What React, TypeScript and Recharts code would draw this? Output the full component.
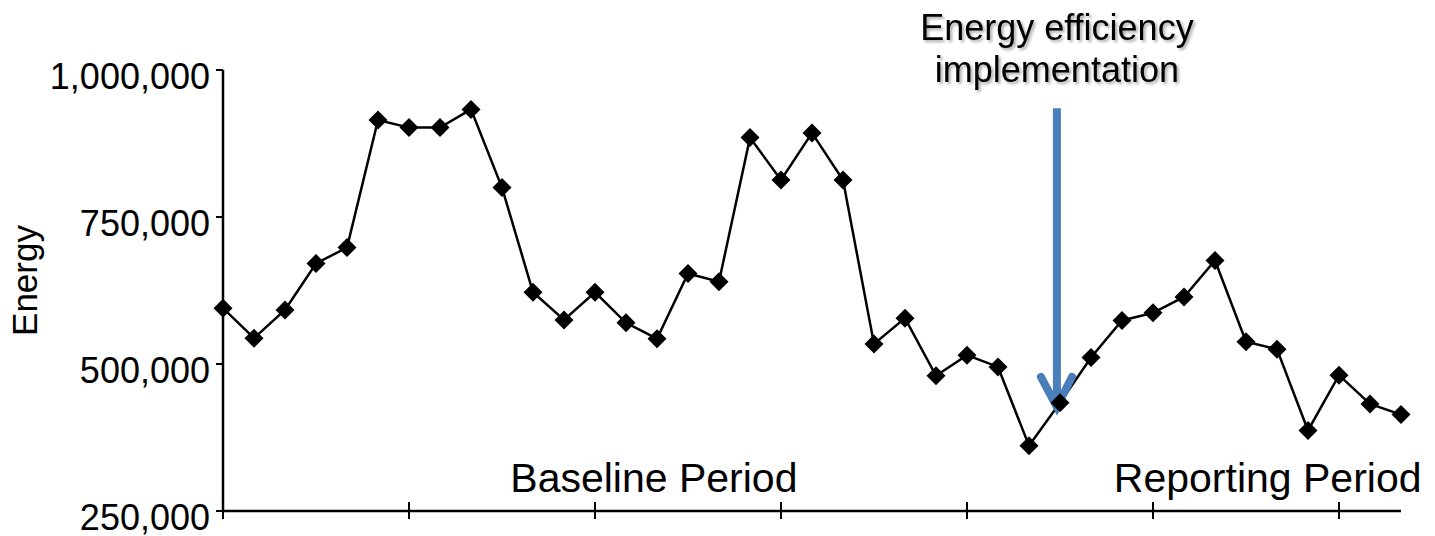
import React from 'react';
import { LineChart, Line, XAxis, YAxis, ReferenceLine, ReferenceDot, Label } from 'recharts';

// Month index (x categories)
const months = [
  1, 2, 3, 4, 5, 6, 7, 8, 9, 10, 11, 12, 13, 14, 15, 16, 17, 18, 19, 20,
  21, 22, 23, 24, 25, 26, 27, 28, 29, 30, 31, 32, 33, 34, 35, 36, 37, 38, 39,
];

// Energy values
const energy = [
  595000, 544000, 592000, 671000, 698000, 915000, 902000, 902000, 933000, 800000,
  622000, 575000, 622000, 570000, 543000, 654000, 640000, 885000, 813000, 893000,
  813000, 534000, 578000, 480000, 515000, 495000, 361000, 434000, 511000, 574000,
  587000, 614000, 676000, 538000, 525000, 387000, 481000, 432000, 414000,
];

const yTicks = [250000, 500000, 750000, 1000000];
const xTicks = [1, 7, 13, 19, 25, 31, 37];

// Annotations (in data coordinates)
const arrowMonth = 27.9;
const arrowTop = 935000;
const arrowTip = 427000;
const annotationLines = ['Energy efficiency', 'implementation'];
const periodLabels = [
  { month: 14.9, value: 306500, text: 'Baseline Period' },
  { month: 34.7, value: 306500, text: 'Reporting Period' },
];

const data = months.map((m, i) => ({ month: m, energy: energy[i] }));

const FONT = '"Liberation Sans", Arial, sans-serif';
const BLUE = '#4A7EBB';

const Diamond = (props: any) => {
  const { cx, cy, index } = props;
  if (cx == null || cy == null) return <g key={`d-${index}`} />;
  const r = 9.5;
  return (
    <path
      key={`d-${index}`}
      d={`M${cx},${cy - r} L${cx + r},${cy} L${cx},${cy + r} L${cx - r},${cy} Z`}
      fill="#000"
    />
  );
};

const XTick = (props: any) => {
  const { x, y } = props;
  return <line x1={x} x2={x} y1={y - 9} y2={y + 8} stroke="#000" strokeWidth={2} />;
};

const YTick = (props: any) => {
  const { x, y, payload } = props;
  return (
    <text x={x} y={y + 18.5} textAnchor="end" fontSize={36} fontFamily={FONT} fill="#000">
      {Number(payload.value).toLocaleString('en-US')}
    </text>
  );
};

const ArrowShape = (props: any) => {
  const { x1, y1, x2, y2 } = props;
  if (x1 == null) return null;
  const tipX = x2;
  const tipY = y2;
  return (
    <g>
      <line x1={x1} y1={y1} x2={tipX} y2={tipY - 4} stroke={BLUE} strokeWidth={8} />
      <polyline
        points={`${tipX - 16},${tipY - 30} ${tipX},${tipY} ${tipX + 15},${tipY - 30}`}
        fill="none"
        stroke={BLUE}
        strokeWidth={8}
        strokeLinecap="round"
        strokeLinejoin="miter"
      />
      <g filter="url(#txtShadow)">
        {annotationLines.map((t, i) => (
          <text
            key={t}
            x={x1}
            y={y1 - 68 + i * 42}
            textAnchor="middle"
            fontSize={36}
            fontFamily={FONT}
            fill="#000"
          >
            {t}
          </text>
        ))}
      </g>
    </g>
  );
};

export default function App() {
  return (
    <div style={{ position: 'fixed', left: 0, top: 0, width: 1435, height: 536, background: '#fff' }}>
      <LineChart
        width={1435}
        height={536}
        data={data}
        margin={{ top: 70, right: 34, left: 0, bottom: 0 }}
      >
        <defs>
          <filter id="txtShadow" x="-20%" y="-50%" width="140%" height="200%">
            <feDropShadow dx="2" dy="2" stdDeviation="1.5" floodColor="#000" floodOpacity="0.35" />
          </filter>
        </defs>
        <XAxis
          type="number"
          dataKey="month"
          domain={[1, 39]}
          ticks={xTicks}
          height={25}
          tickSize={0}
          tickMargin={0}
          tickLine={false}
          axisLine={{ stroke: '#000', strokeWidth: 2.5 }}
          tick={<XTick />}
          interval={0}
        />
        <YAxis
          type="number"
          domain={[250000, 1000000]}
          ticks={yTicks}
          width={223}
          tickSize={7}
          tickMargin={6}
          axisLine={{ stroke: '#000', strokeWidth: 2.5 }}
          tickLine={{ stroke: '#000', strokeWidth: 2 }}
          tick={<YTick />}
          interval={0}
        >
          <Label
            content={(p: any) => {
              const vb = p.viewBox || {};
              const cy = (vb.y ?? 70) + (vb.height ?? 441) / 2 - 10;
              const cx = 37;
              return (
                <text
                  x={cx}
                  y={cy}
                  transform={`rotate(-90, ${cx}, ${cy})`}
                  textAnchor="middle"
                  fontSize={35}
                  fontFamily={FONT}
                  fill="#000"
                >
                  Energy
                </text>
              );
            }}
          />
        </YAxis>
        <Line
          type="linear"
          dataKey="energy"
          stroke="#000"
          strokeWidth={2.5}
          dot={Diamond}
          activeDot={false}
          isAnimationActive={false}
        />
        {periodLabels.map((p) => (
          <ReferenceDot
            key={p.text}
            x={p.month}
            y={p.value}
            r={0}
            fill="none"
            stroke="none"
            label={{ value: p.text, position: 'center', fontSize: 41, fill: '#000', fontFamily: FONT }}
          />
        ))}
        <ReferenceLine
          segment={[
            { x: arrowMonth, y: arrowTop },
            { x: arrowMonth, y: arrowTip },
          ]}
          stroke={BLUE}
          shape={ArrowShape}
        />
      </LineChart>
    </div>
  );
}
